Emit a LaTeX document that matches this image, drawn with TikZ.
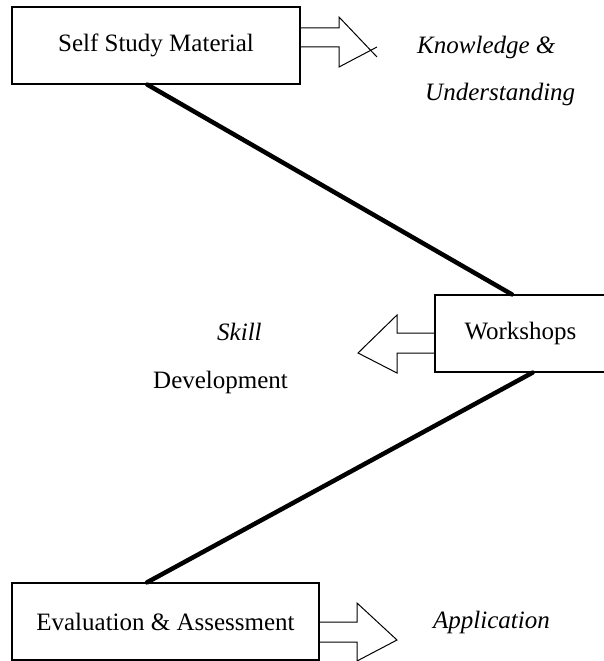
\documentclass[tikz,border=0pt]{standalone}
\usepackage{fontspec}
\setmainfont{Liberation Serif}
\usetikzlibrary{calc}

\begin{document}
\begin{tikzpicture}[x=1pt,y=-1pt,
  box/.style={draw,line width=1.2pt,minimum height=77pt,inner sep=0pt},
  link/.style={line width=4.5pt,line cap=round},
  blockarrow/.style={line width=1pt,line join=miter},
  lbl/.style={anchor=base west,inner sep=0pt}]
\fontsize{25}{30}\selectfont

\useasboundingbox (0,0) rectangle (604,661);

\node[box,minimum width=288pt] (ssm) at (156,45.5) {Self Study Material};
\node[box,minimum width=171pt] (wks) at (520.5,333.5) {Workshops};
\node[box,minimum width=307pt] (eva) at (165.5,621.5) {Evaluation \& Assessment};

\draw[link] ($(ssm.south west)!0.47!(ssm.south east)$) -- ($(wks.north west)!0.45!(wks.north east)$);
\draw[link] ($(wks.south west)!0.57!(wks.south east)$) -- ($(eva.north west)!0.44!(eva.north east)$);

\draw[blockarrow] (300,28) -- (339,28) -- (339,17) -- (377,57);
\draw[blockarrow] (300,47) -- (339,47) -- (339,67) -- (377,47);
\draw[blockarrow] (435,333) -- (397,333) -- (397,315) -- (358,353) -- (397,373) -- (397,353) -- (435,353);
\draw[blockarrow] (319,622) -- (357,622) -- (357,603) -- (397,640) -- (357,661) -- (357,642) -- (319,642);

\node[lbl] (know) at (417,53) {\itshape Knowledge \&};
\node[lbl] (under) at (425,100) {\itshape Understanding};
\node[lbl] (skill) at (217,340) {\itshape Skill};
\node[lbl] (devel) at (153,388) {Development};
\node[lbl] (appl) at (433,628) {\itshape Application};
\end{tikzpicture}
\end{document}
